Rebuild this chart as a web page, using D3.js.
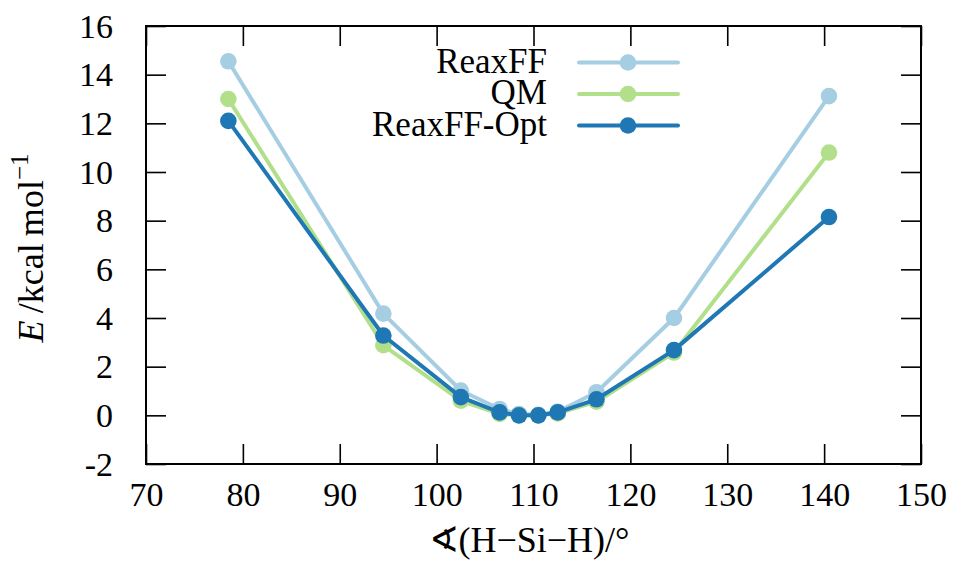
<!DOCTYPE html>
<html><head><meta charset="utf-8">
<script src="https://cdn.jsdelivr.net/npm/d3@7"></script>
</head><body style="margin:0">
<svg id="c" width="954" height="561" style="display:block;background:#fff"></svg>
<script>
const angles = [78.5, 94.5, 102.5, 106.5, 108.5, 110.5, 112.5, 116.5, 124.5, 140.5];
const reaxff = [14.55, 4.18, 1.02, 0.26, 0.05, 0.02, 0.15, 0.95, 4.0, 13.12];
const qm = [13.0, 2.88, 0.6, 0.06, 0.0, 0.0, 0.08, 0.56, 2.58, 10.8];
const reaxffOpt = [12.1, 3.28, 0.75, 0.12, 0.0, 0.0, 0.12, 0.66, 2.68, 8.15];
const seriesNames = ["ReaxFF", "QM", "ReaxFF-Opt"];
const seriesColors = ["#a6cee3", "#b2df8a", "#1f78b4"];
const xTicks = [70, 80, 90, 100, 110, 120, 130, 140, 150];
const yTicks = [-2, 0, 2, 4, 6, 8, 10, 12, 14, 16];

const FONT = '"Liberation Serif"';
const FS = 34;
const svg = d3.select("#c");
const L = 146, R = 921, T = 26, B = 464;
const x = d3.scaleLinear().domain([70, 150]).range([L, R]);
const y = d3.scaleLinear().domain([-2, 16]).range([B, T]);
const tl = 20;

const g = svg.append("g");
const axB = d3.axisBottom(x).tickValues(xTicks).tickSize(tl).tickFormat(d=>d);
const axT = d3.axisTop(x).tickValues(xTicks).tickSize(tl).tickFormat("");
const axL = d3.axisLeft(y).tickValues(yTicks).tickSize(tl).tickFormat(d=>d);
const axR = d3.axisRight(y).tickValues(yTicks).tickSize(tl).tickFormat("");

const gb = g.append("g").attr("transform",`translate(0,${B})`).call(axB);
gb.selectAll(".tick line").attr("y2",-tl);
gb.selectAll(".tick text").attr("y",42).attr("dy",null);
const gt = g.append("g").attr("transform",`translate(0,${T})`).call(axT);
gt.selectAll(".tick line").attr("y2",tl);
const gl = g.append("g").attr("transform",`translate(${L},0)`).call(axL);
gl.selectAll(".tick line").attr("x2",tl);
gl.selectAll(".tick text").attr("x",-33).attr("dy",null).attr("y",11);
const gr = g.append("g").attr("transform",`translate(${R},0)`).call(axR);
gr.selectAll(".tick line").attr("x2",-tl);
g.selectAll(".domain").remove();
g.selectAll("g").attr("font-family",null).attr("font-size",null);
g.selectAll(".tick line").attr("stroke","#000").attr("stroke-width",1.6);
g.selectAll(".tick text").attr("font-size",FS).style("font-family",FONT).attr("fill","#000");
gl.selectAll(".tick text").attr("text-anchor","end");

g.append("rect").attr("x",L).attr("y",T).attr("width",R-L).attr("height",B-T)
  .attr("fill","none").attr("stroke","#000").attr("stroke-width",2);

const data = [reaxff, qm, reaxffOpt];
const line = d3.line().x((d,i)=>x(angles[i])).y(d=>y(d));
data.forEach((vals,k)=>{
  svg.append("path").datum(vals).attr("d",line).attr("fill","none")
    .attr("stroke",seriesColors[k]).attr("stroke-width",4).attr("stroke-linejoin","round");
  svg.append("g").selectAll("circle").data(vals).join("circle")
    .attr("cx",(d,i)=>x(angles[i])).attr("cy",d=>y(d)).attr("r",8.3).attr("fill",seriesColors[k]);
});

// legend
const legY = [62.5, 94, 125.5];
seriesNames.forEach((n,k)=>{
  const lg = svg.append("g");
  lg.append("text").attr("x",547).attr("y",legY[k]+10).attr("text-anchor","end")
    .attr("font-size",35).style("font-family",FONT).text(n);
  lg.append("line").attr("x1",579).attr("x2",678).attr("y1",legY[k]).attr("y2",legY[k])
    .attr("stroke",seriesColors[k]).attr("stroke-width",4).attr("stroke-linecap","round");
  lg.append("circle").attr("cx",628).attr("cy",legY[k]).attr("r",8.3).attr("fill",seriesColors[k]);
});

// axis labels
svg.append("text").attr("x",529).attr("y",552).attr("text-anchor","middle")
  .attr("font-size",36).style("font-family",FONT).text("∢(H−Si−H)/°");
const yl = svg.append("text").attr("transform","translate(43,248) rotate(-90)").attr("text-anchor","middle")
  .attr("font-size",36).style("font-family",FONT);
yl.append("tspan").attr("font-style","italic").text("E");
yl.append("tspan").text("\u2009/kcal\u2009mol");
yl.append("tspan").attr("dy",-15).attr("font-size",25).text("−1");
</script></body></html>
